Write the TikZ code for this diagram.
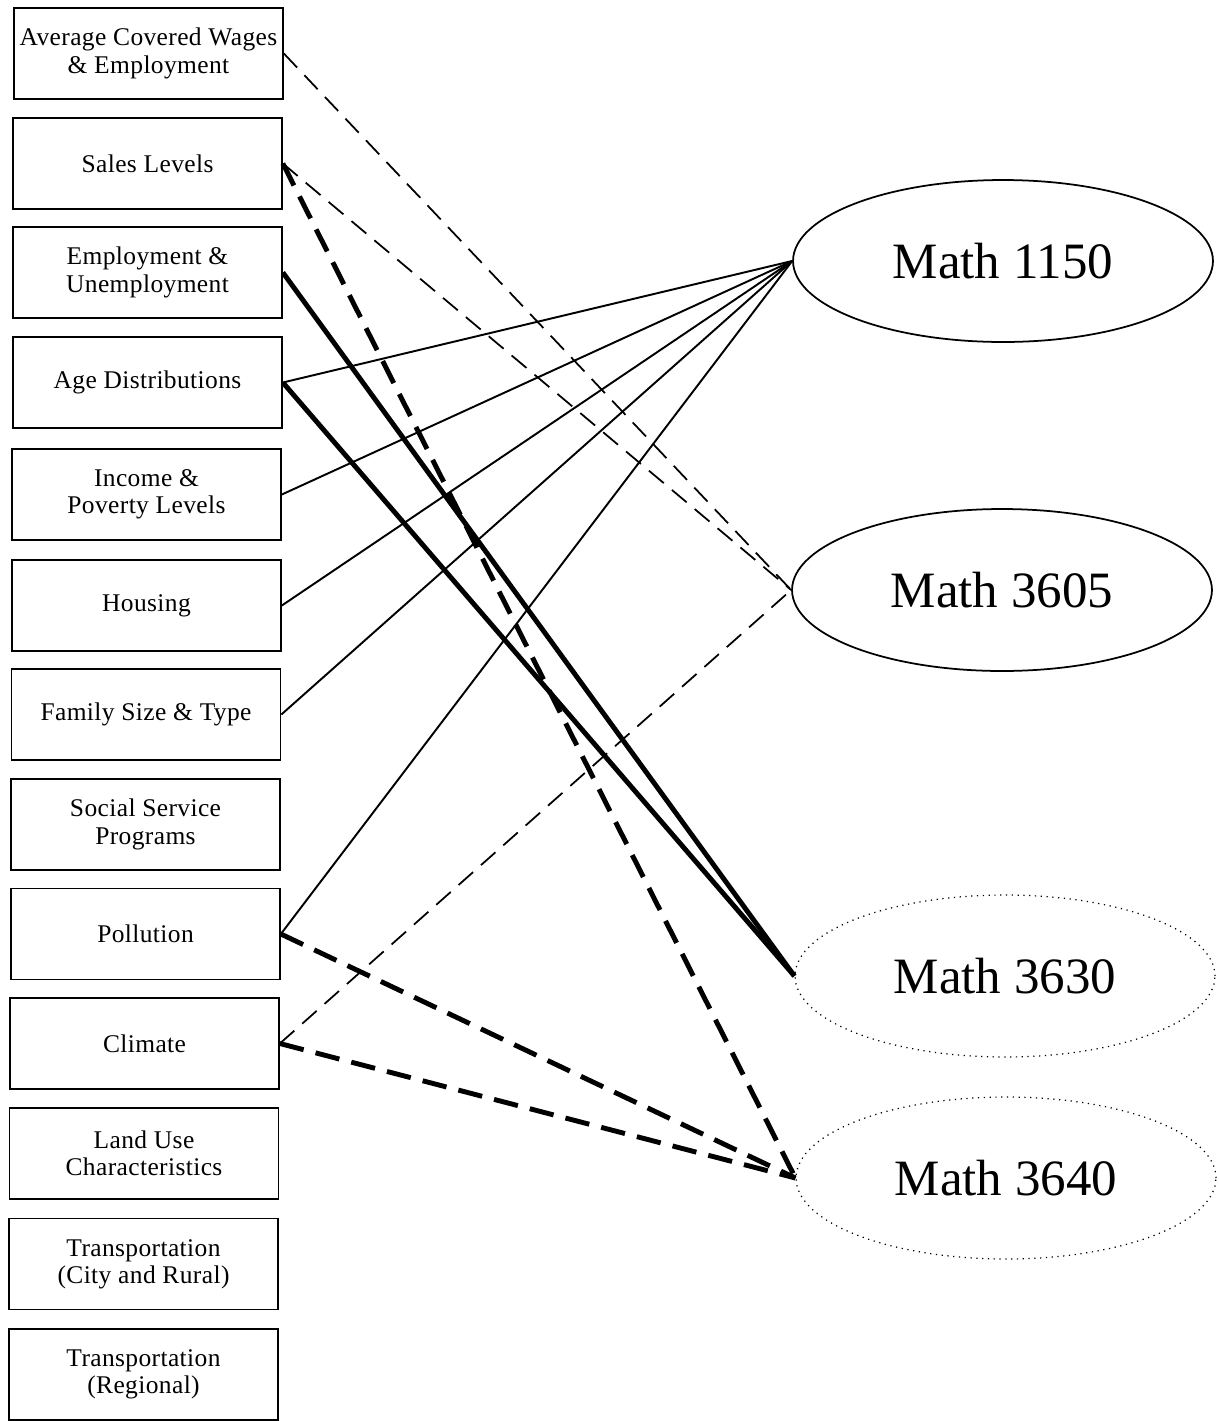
\documentclass[tikz,border=0pt]{standalone}
\usepackage{fontspec}
\setmainfont{Liberation Serif}
\newfontfamily\boxfont[LetterSpace=1.5]{Liberation Serif}
\usetikzlibrary{shapes.geometric}

\tikzset{
	topic/.style={draw, line width=1pt, minimum width=5.38cm, minimum height=1.82cm, inner sep=0pt, align=center, font=\boxfont\fontsize{14.5}{15.5}\selectfont},
	course/.style={ellipse, draw, line width=1pt, minimum width=8.4cm, minimum height=3.24cm, inner sep=0pt, font=\fontsize{29}{32}\selectfont},
	planned/.style={course, line width=0.7pt, dash pattern=on 0.7pt off 2.6pt},
	thinlink/.style={line width=1.1pt},
	thicklink/.style={line width=2.8pt},
	thindash/.style={line width=1pt, dash pattern=on 11pt off 6pt},
	thickdash/.style={line width=2.8pt, dash pattern=on 14pt off 7pt},
}

\begin{document}
\begin{tikzpicture}[x=0.02cm, y=-0.02cm]
				\useasboundingbox (0,0) rectangle (1219,1421);
				
				% topics on the left
				\node[topic] (wages) at (148.5, 53.5) {Average Covered Wages\\\& Employment};
				\node[topic] (sales) at (147.5, 163.5) {Sales Levels};
				\node[topic] (employ) at (147.5, 272.5) {Employment \&\\Unemployment};
				\node[topic] (age) at (147.5, 382.5) {Age Distributions};
				\node[topic] (income) at (146.5, 494.5) {Income \&\\Poverty Levels};
				\node[topic] (housing) at (146.5, 605.5) {Housing};
				\node[topic] (family) at (146, 714.5) {Family Size \& Type};
				\node[topic] (social) at (145.5, 824.5) {Social Service\\Programs};
				\node[topic] (pollution) at (145.5, 934) {Pollution};
				\node[topic] (climate) at (144.5, 1043.5) {Climate};
				\node[topic] (landuse) at (144, 1153.5) {Land Use\\Characteristics};
				\node[topic] (transcity) at (143.5, 1264) {Transportation\\(City and Rural)};
				\node[topic] (transreg) at (143.5, 1374.5) {Transportation\\(Regional)};
				
				% courses on the right
				\node[course] (m1150) at (1003, 261) {Math 1150};
				\node[course] (m3605) at (1002, 590) {Math 3605};
				\node[planned] (m3630) at (1005, 976) {Math 3630};
				\node[planned] (m3640) at (1006, 1178) {Math 3640};
				
				\draw[thindash] (wages.east) -- (m3605.west);
				\draw[thindash] (sales.east) -- (m3605.west);
				\draw[thickdash] (sales.east) -- (m3640.west);
				\draw[thicklink] (employ.east) -- (m3630.west);
				\draw[thinlink] (age.east) -- (m1150.west);
				\draw[thicklink] (age.east) -- (m3630.west);
				\draw[thinlink] (income.east) -- (m1150.west);
				\draw[thinlink] (housing.east) -- (m1150.west);
				\draw[thinlink] (family.east) -- (m1150.west);
				\draw[thinlink] (pollution.east) -- (m1150.west);
				\draw[thickdash] (pollution.east) -- (m3640.west);
				\draw[thindash] (climate.east) -- (m3605.west);
				\draw[thickdash] (climate.east) -- (m3640.west);
			\end{tikzpicture}
\end{document}
